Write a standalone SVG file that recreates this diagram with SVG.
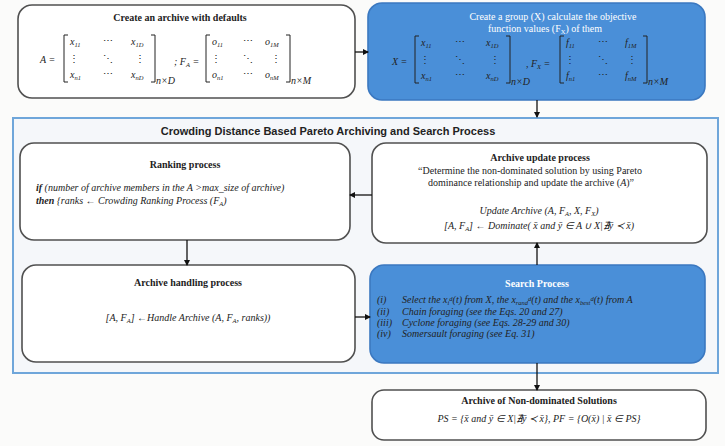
<svg xmlns="http://www.w3.org/2000/svg" width="725" height="446" viewBox="0 0 725 446">
<style>
.box{fill:#ffffff;stroke:#505050;stroke-width:1.6}
.blue{fill:#4a8fd8;stroke:#3b78c0;stroke-width:1.6}
.hd{font-family:"Liberation Serif",serif;font-weight:bold;font-size:10px;fill:#222;text-anchor:middle}
.hdw{font-family:"Liberation Serif",serif;font-weight:bold;font-size:10px;fill:#ffffff;text-anchor:middle}
.t{font-family:"Liberation Serif",serif;font-size:10px;fill:#222}
.it{font-family:"Liberation Serif",serif;font-style:italic;font-size:10px;fill:#222}
.m{font-family:"Liberation Serif",serif;font-style:italic;font-size:10px;fill:#222}
.mc{font-family:"Liberation Serif",serif;font-size:10px;fill:#222;text-anchor:middle}
.br{fill:none;stroke:#222;stroke-width:1}
.sub{font-size:6.5px}
.conn line{stroke:#111;stroke-width:1.3;marker-end:url(#ah)}
</style>
<defs>
<marker id="ah" markerWidth="6" markerHeight="6" refX="5" refY="3" orient="auto" markerUnits="userSpaceOnUse">
<path d="M0,0 L6,3 L0,6 Z" fill="#111"/>
</marker>
</defs>
<rect x="0" y="0" width="725" height="446" fill="#fbfbfa"/>

<g id="container">
<rect x="13" y="118" width="705" height="255" fill="#f5f7fa" stroke="#6fa6da" stroke-width="2"/>
<text x="328" y="135" font-family="Liberation Sans,sans-serif" font-weight="bold" font-size="11px" fill="#222" text-anchor="middle">Crowding Distance Based Pareto Archiving and Search Process</text>
</g>

<g id="create-archive">
<rect class="box" x="18" y="5" width="337" height="93" rx="14"/>
<text class="hd" x="180" y="21">Create an archive with defaults</text>
<text class="it" x="40" y="63" font-size="12px">A =</text>
<path class="br" d="M68,35 H64 V82 H68 M151,35 H155 V82 H151"/>
<text class="m" x="70" y="45">x<tspan class="sub" dy="2">11</tspan></text>
<text class="mc" x="108" y="44">⋯</text>
<text class="m" x="131" y="45">x<tspan class="sub" dy="2">1D</tspan></text>
<text class="mc" x="74" y="62">⋮</text><text class="mc" x="108" y="62">⋱</text><text class="mc" x="140" y="62">⋮</text>
<text class="m" x="70" y="78">x<tspan class="sub" dy="2">n1</tspan></text>
<text class="mc" x="108" y="77">⋯</text>
<text class="m" x="131" y="78">x<tspan class="sub" dy="2">nD</tspan></text>
<text class="m" x="156" y="84" font-size="6.5px">n×D</text>
<text class="it" x="174" y="65" font-size="12px">; F<tspan class="sub" dy="2">A</tspan><tspan dy="-2"> =</tspan></text>
<path class="br" d="M210,35 H206 V82 H210 M286,35 H290 V82 H286"/>
<text class="m" x="212" y="45">o<tspan class="sub" dy="2">11</tspan></text>
<text class="mc" x="248" y="44">⋯</text>
<text class="m" x="265" y="45">o<tspan class="sub" dy="2">1M</tspan></text>
<text class="mc" x="216" y="62">⋮</text><text class="mc" x="248" y="62">⋱</text><text class="mc" x="276" y="62">⋮</text>
<text class="m" x="212" y="78">o<tspan class="sub" dy="2">n1</tspan></text>
<text class="mc" x="248" y="77">⋯</text>
<text class="m" x="265" y="78">o<tspan class="sub" dy="2">nM</tspan></text>
<text class="m" x="291" y="84" font-size="6.5px">n×M</text>
</g>

<g id="create-group">
<rect class="blue" x="368" y="3" width="337" height="97" rx="14"/>
<text class="hdw" x="553" y="20" style="font-weight:normal">Create a group (X)  calculate the objective</text>
<text class="hdw" x="545" y="32" style="font-weight:normal">function values (F<tspan class="sub" dy="2">X</tspan><tspan dy="-2">) of them</tspan></text>
<text class="it" x="392" y="65" font-size="12px" fill="#0f1e3a">X =</text>
<path class="br" d="M419,36 H415 V83 H419 M506,36 H510 V83 H506"/>
<text class="m" x="421" y="46">x<tspan class="sub" dy="2">11</tspan></text>
<text class="mc" x="460" y="45">⋯</text>
<text class="m" x="486" y="46">x<tspan class="sub" dy="2">1D</tspan></text>
<text class="mc" x="425" y="63">⋮</text><text class="mc" x="460" y="63">⋱</text><text class="mc" x="495" y="63">⋮</text>
<text class="m" x="421" y="79">x<tspan class="sub" dy="2">n1</tspan></text>
<text class="mc" x="460" y="78">⋯</text>
<text class="m" x="486" y="79">x<tspan class="sub" dy="2">nD</tspan></text>
<text class="m" x="511" y="85" font-size="6.5px">n×D</text>
<text class="it" x="526" y="67" font-size="12px">, F<tspan class="sub" dy="2">X</tspan><tspan dy="-2"> =</tspan></text>
<path class="br" d="M564,36 H560 V83 H564 M643,36 H647 V83 H643"/>
<text class="m" x="566" y="46">f<tspan class="sub" dy="2">11</tspan></text>
<text class="mc" x="603" y="45">⋯</text>
<text class="m" x="625" y="46">f<tspan class="sub" dy="2">1M</tspan></text>
<text class="mc" x="570" y="63">⋮</text><text class="mc" x="603" y="63">⋱</text><text class="mc" x="632" y="63">⋮</text>
<text class="m" x="566" y="79">f<tspan class="sub" dy="2">n1</tspan></text>
<text class="mc" x="603" y="78">⋯</text>
<text class="m" x="625" y="79">f<tspan class="sub" dy="2">nM</tspan></text>
<text class="m" x="648" y="85" font-size="6.5px">n×M</text>
</g>

<g id="ranking">
<rect class="box" x="20" y="143" width="330" height="97" rx="14"/>
<text class="hd" x="185" y="168">Ranking process</text>
<text class="it" x="36" y="191" font-size="9.5px"><tspan font-weight="bold">if</tspan> (number of archive members in the A &gt;max_size of archive)</text>
<text class="it" x="36" y="204" font-size="9.5px"><tspan font-weight="bold">then</tspan> {ranks ← Crowding Ranking Process (F<tspan class="sub" dy="2">A</tspan><tspan dy="-2">)</tspan></text>
</g>

<g id="archive-update">
<rect class="box" x="372" y="143" width="335" height="100" rx="14"/>
<text class="hd" x="540" y="161">Archive update process</text>
<text class="t" x="530" y="174" text-anchor="middle">“Determine the non-dominated solution by using Pareto</text>
<text class="t" x="531" y="186" text-anchor="middle">dominance relationship and update the archive (<tspan font-style="italic">A</tspan>)”</text>
<text class="it" x="539" y="214" text-anchor="middle">Update Archive (A, F<tspan class="sub" dy="2">A</tspan><tspan dy="-2">, X, F</tspan><tspan class="sub" dy="2">X</tspan><tspan dy="-2">)</tspan></text>
<text class="it" x="539" y="229" text-anchor="middle">[A, F<tspan class="sub" dy="2">A</tspan><tspan dy="-2">] ← Dominate( x̄ and ȳ ∈ A ∪ X|∄ȳ ≺ x̄)</tspan></text>
</g>

<g id="archive-handling">
<rect class="box" x="22" y="265" width="333" height="97" rx="14"/>
<text class="hd" x="188" y="286">Archive handling process</text>
<text class="it" x="188" y="321" text-anchor="middle">[A, F<tspan class="sub" dy="2">A</tspan><tspan dy="-2">] ←Handle Archive (A, F</tspan><tspan class="sub" dy="2">A</tspan><tspan dy="-2">, ranks))</tspan></text>
</g>

<g id="search-process">
<rect class="blue" x="370" y="265" width="335" height="98" rx="14"/>
<text class="hdw" x="537" y="287" font-family="Liberation Sans,sans-serif" font-size="9.5px">Search Process</text>
<g class="it" font-size="9.5px" fill="#12233f">
<text x="377" y="303">(i)</text>
<text x="402" y="303">Select the x<tspan class="sub" dy="1.5">i</tspan><tspan class="sub" dy="-4">d</tspan><tspan dy="2.5">(t) from X, the x</tspan><tspan class="sub" dy="1.5">rand</tspan><tspan class="sub" dy="-4">d</tspan><tspan dy="2.5">(t) and the x</tspan><tspan class="sub" dy="1.5">best</tspan><tspan class="sub" dy="-4">d</tspan><tspan dy="2.5">(t) from A</tspan></text>
<text x="377" y="315">(ii)</text>
<text x="402" y="315">Chain foraging (see the Eqs. 20 and 27)</text>
<text x="377" y="326">(iii)</text>
<text x="402" y="326">Cyclone foraging (see Eqs. 28-29 and 30)</text>
<text x="377" y="337">(iv)</text>
<text x="402" y="337">Somersault foraging (see Eq. 31)</text>
</g>
</g>

<g id="final-archive">
<rect class="box" x="372" y="390" width="334" height="50" rx="12"/>
<text class="hd" x="539" y="404">Archive of Non-dominated Solutions</text>
<text class="it" x="539" y="422" text-anchor="middle" font-size="11px">PS = {x̄ and ȳ ∈ X|∄ȳ ≺ x̄}, PF = {O(x̄) | x̄ ∈ PS}</text>
</g>

<g id="connectors" class="conn">
<line x1="355" y1="52" x2="368" y2="52"/>
<line x1="537" y1="100" x2="537" y2="117"/>
<line x1="372" y1="195" x2="350" y2="195"/>
<line x1="187" y1="240" x2="187" y2="265"/>
<line x1="355" y1="317" x2="370" y2="317"/>
<line x1="537" y1="265" x2="537" y2="243"/>
<line x1="537" y1="363" x2="537" y2="390"/>
</g>
</svg>
